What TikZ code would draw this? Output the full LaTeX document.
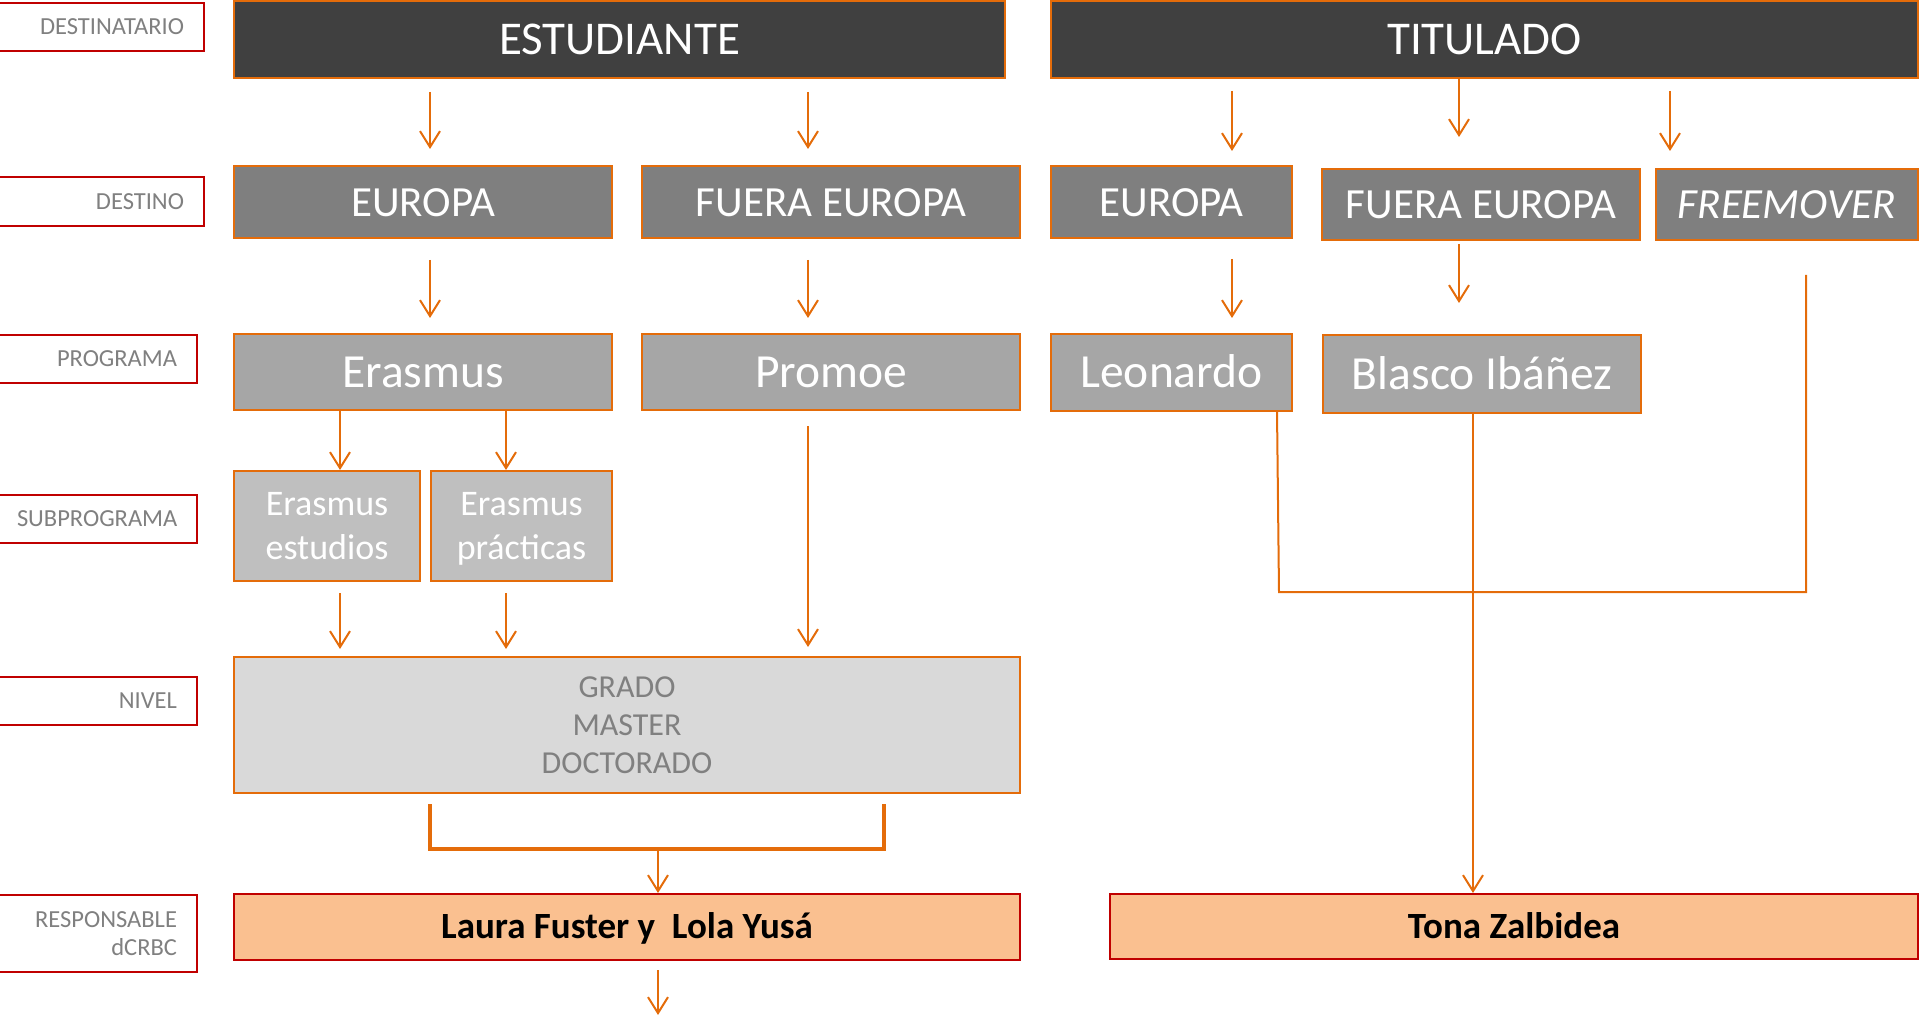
\documentclass[tikz,border=0pt]{standalone}
\usepackage{fontspec}
\setmainfont{Carlito}
\usetikzlibrary{arrows.meta}
\definecolor{org}{HTML}{E46C0A}
\definecolor{labred}{HTML}{C00000}
\definecolor{labtxt}{HTML}{808080}
\definecolor{cA}{HTML}{404040}
\definecolor{cB}{HTML}{7F7F7F}
\definecolor{cC}{HTML}{A6A6A6}
\definecolor{cD}{HTML}{BFBFBF}
\definecolor{cE}{HTML}{D9D9D9}
\definecolor{cF}{HTML}{FAC090}
\begin{document}
\begin{tikzpicture}[x=1pt,y=-1pt,
  base/.style={draw=org, line width=2pt, inner sep=0pt, outer sep=0pt, text=white, align=center},
  lvlA/.style={base, fill=cA, font=\fontsize{47}{56}\selectfont, text height=31pt, text depth=0pt},
  lvlB/.style={base, fill=cB, font=\fontsize{43}{51}\selectfont, text height=28.4pt, text depth=0pt},
  lvlC/.style={base, fill=cC, font=\fontsize{47.5}{56}\selectfont, text height=31pt, text depth=0pt},
  lvlD/.style={base, fill=cD, font=\fontsize{36}{44}\selectfont},
  lvlE/.style={base, fill=cE, text=labtxt, font=\fontsize{32}{38}\selectfont},
  resp/.style={draw=labred, line width=2pt, inner sep=0pt, outer sep=0pt, fill=cF, text=black,
    font=\fontsize{37}{44}\selectfont\bfseries, text height=23.8pt, text depth=0pt},
  lab/.style={draw=labred, line width=2.6pt, fill=white, inner sep=0pt, inner xsep=20pt, outer sep=0pt,
    text=labtxt, align=right, font=\fontsize{24.5}{28}\selectfont},
  ln/.style={draw=org, line width=2pt},
  brk/.style={draw=org, line width=3.2pt},
  arr/.style={draw=org, line width=2pt, -{Straight Barb[length=16pt,width=20pt]}},
]
\useasboundingbox (0,0) rectangle (1920,1016);

% row labels
\node[lab, minimum width=207pt, minimum height=48pt, text width=167pt] (lDestinatario) at (100.5,27) {DESTINATARIO};
\node[lab, minimum width=207pt, minimum height=49pt, text width=167pt] (lDestino) at (100.5,201.5) {DESTINO};
\node[lab, minimum width=200pt, minimum height=48pt, text width=160pt] (lPrograma) at (97,359) {PROGRAMA};
\node[lab, minimum width=200pt, minimum height=48pt, text width=160pt] (lSub) at (97,519) {SUBPROGRAMA};
\node[lab, minimum width=200pt, minimum height=48pt, text width=160pt] (lNivel) at (97,701) {NIVEL};
\node[lab, minimum width=200pt, minimum height=77pt, text width=160pt] (lResp) at (97,933.5) {RESPONSABLE\\dCRBC};

% level 1
\node[lvlA, minimum width=771pt, minimum height=77pt] (est) at (619.5,39.5) {ESTUDIANTE};
\node[lvlA, minimum width=867pt, minimum height=77pt] (tit) at (1484.5,39.5) {TITULADO};

% level 2
\node[lvlB, minimum width=378pt, minimum height=72pt] (eE) at (423,202) {EUROPA};
\node[lvlB, minimum width=378pt, minimum height=72pt] (eF) at (831,202) {FUERA EUROPA};
\node[lvlB, minimum width=241pt, minimum height=72pt] (tE) at (1171.5,202) {EUROPA};
\node[lvlB, minimum width=318pt, minimum height=71pt] (tF) at (1481,204.5) {FUERA EUROPA};
\node[lvlB, minimum width=262pt, minimum height=71pt] (tFM) at (1787,204.5) {\itshape FREEMOVER};

% level 3
\node[lvlC, minimum width=378pt, minimum height=76pt] (erasmus) at (423,372) {Erasmus};
\node[lvlC, minimum width=378pt, minimum height=76pt] (promoe) at (831,372) {Promoe};
\node[lvlC, minimum width=241pt, minimum height=77pt] (leonardo) at (1171.5,372.5) {Leonardo};
\node[lvlC, minimum width=318pt, minimum height=78pt] (blasco) at (1482,374) {Blasco Ibáñez};

% level 4
\node[lvlD, minimum width=186pt, minimum height=110pt] (subE) at (327,526) {Erasmus\\estudios};
\node[lvlD, minimum width=181pt, minimum height=110pt] (subP) at (521.5,526) {Erasmus\\\raisebox{0pt}[\height][0pt]{prácticas}};

% level 5
\node[lvlE, minimum width=786pt, minimum height=136pt] (nivel) at (627,725) {GRADO\\MASTER\\DOCTORADO};

% responsables
\node[resp, minimum width=786pt, minimum height=66pt] (resp1) at (627,927) {Laura Fuster y~ Lola Yusá};
\node[resp, minimum width=808pt, minimum height=65pt] (resp2) at (1514,926.5) {Tona Zalbidea};

% x positions of connectors
\coordinate (xa) at (430,0);
\coordinate (xb) at (808,0);
\coordinate (xc) at (1232,0);
\coordinate (xd) at (1459,0);
\coordinate (xe) at (1670,0);
\coordinate (xf) at (340,0);
\coordinate (xg) at (506,0);
\coordinate (xh) at (658,0);
\coordinate (xj) at (1473,0);
\coordinate (xk) at (1277,0);

% level 1 -> 2
\draw[arr, shorten <=14pt, shorten >=17pt] (est.south -| xa) -- (eE.north -| xa);
\draw[arr, shorten <=14pt, shorten >=17pt] (est.south -| xb) -- (eF.north -| xb);
\draw[arr, shorten <=13pt, shorten >=15pt] (tit.south -| xc) -- (tE.north -| xc);
\draw[arr, shorten >=32pt] (tit.south -| xd) -- (tF.north -| xd);
\draw[arr, shorten <=13pt, shorten >=18pt] (tit.south -| xe) -- (tFM.north -| xe);

% level 2 -> 3
\draw[arr, shorten <=22pt, shorten >=16pt] (eE.south -| xa) -- (erasmus.north -| xa);
\draw[arr, shorten <=22pt, shorten >=16pt] (eF.south -| xb) -- (promoe.north -| xb);
\draw[arr, shorten <=21pt, shorten >=16pt] (tE.south -| xc) -- (leonardo.north -| xc);
\draw[arr, shorten <=4pt, shorten >=32pt] (tF.south -| xd) -- (blasco.north -| xd);

% level 3 -> 4
\draw[arr, shorten >=1pt] (erasmus.south -| xf) -- (subE.north -| xf);
\draw[arr, shorten >=1pt] (erasmus.south -| xg) -- (subP.north -| xg);

% level 4 -> nivel
\draw[arr, shorten <=12pt, shorten >=8pt] (subE.south -| xf) -- (nivel.north -| xf);
\draw[arr, shorten <=12pt, shorten >=8pt] (subP.south -| xg) -- (nivel.north -| xg);
\draw[arr, shorten <=16pt, shorten >=10pt] (promoe.south -| xb) -- (nivel.north -| xb);

% bracket under nivel
\coordinate (bL) at (430,804);
\coordinate (bR) at (884,804);
\coordinate (bM) at (658,849);
\draw[brk] (bL) |- (bM) -| (bR);
\draw[arr, shorten >=1pt] (bM) -- (resp1.north -| bM);

% arrow below resp1
\coordinate (endArrow) at (658,1015);
\draw[arr, shorten <=10pt] (resp1.south -| xh) -- (endArrow);

% titulado right side
\draw[arr, shorten >=1pt] (blasco.south -| xj) -- (resp2.north -| xj);
\coordinate (jL) at (1279,592);
\coordinate (jR) at (1806,592);
\coordinate (fmEnd) at (1806,275);
\draw[ln] (leonardo.south -| xk) -- (jL) -- (jR) -- (fmEnd);
\end{tikzpicture}
\end{document}
